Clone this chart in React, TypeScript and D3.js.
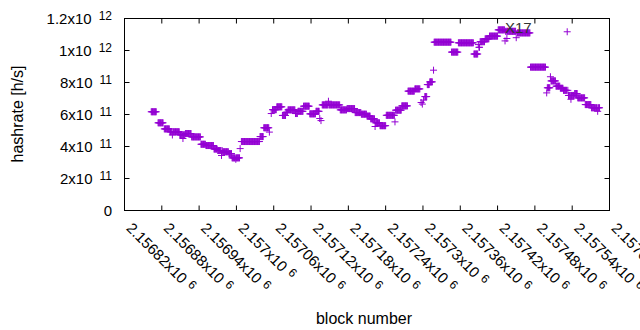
import React from "react";
import * as d3 from "d3";

// ---- data (block offsets relative to BLOCK_BASE) ----
const BLOCK_BASE = 2156820;
const runFirst = [43, 54, 64, 73, 77, 78, 89, 94, 95, 98, 108, 123, 131, 144, 150, 156, 157, 158, 168, 173, 179, 180, 186, 188, 218, 224, 233, 236, 238, 245, 254, 260, 263, 275, 279, 288, 298, 308, 314, 316, 318, 328, 329, 347, 358, 371, 381, 390, 396, 403, 404, 411, 421, 435, 436, 446, 456, 467, 477, 479, 481, 483, 487, 491, 497, 498, 526, 537, 562, 569, 570, 572, 580, 587, 601, 612, 613, 615, 616, 630, 632, 653, 679, 680, 685, 686, 694, 701, 706, 712, 713, 714, 718, 719, 724, 729, 741, 751, 761, 762];
const runLast = [51, 62, 72, 76, 77, 88, 93, 94, 97, 107, 122, 130, 143, 149, 155, 156, 157, 167, 172, 178, 179, 185, 186, 217, 223, 232, 233, 236, 244, 253, 259, 262, 274, 278, 287, 297, 307, 313, 314, 316, 327, 328, 346, 357, 370, 380, 389, 395, 402, 403, 410, 420, 434, 435, 445, 455, 466, 475, 477, 479, 481, 486, 490, 495, 497, 525, 536, 561, 568, 569, 571, 579, 586, 600, 611, 612, 614, 615, 629, 630, 652, 677, 679, 684, 685, 693, 700, 705, 711, 712, 713, 717, 718, 723, 728, 740, 750, 760, 761, 764];
const runHashrateE11 = [6.17, 5.48, 5.10, 4.92, 4.72, 4.92, 4.73, 4.5, 4.73, 4.81, 4.6, 4.14, 4.06, 3.84, 3.75, 3.44, 3.75, 3.67, 3.56, 3.29, 3.2, 3.29, 3.87, 4.31, 4.62, 5.17, 4.9, 6.06, 6.3, 6.48, 5.94, 6.14, 6.29, 6.06, 6.2, 6.52, 6.04, 6.2, 5.75, 5.62, 6.6, 6.83, 6.6, 6.29, 6.37, 6.12, 6.02, 5.9, 5.73, 5.25, 5.48, 5.3, 5.95, 5.54, 6.27, 6.54, 7.46, 7.6, 6.75, 6.65, 6.9, 7.12, 7.87, 8.04, 8.77, 10.52, 9.9, 10.48, 9.78, 10.37, 10.2, 10.55, 10.73, 10.9, 11.29, 10.6, 11.2, 10.75, 11.2, 10.8, 11.1, 8.96, 7.35, 7.67, 8.36, 8.1, 7.77, 7.64, 7.51, 11.17, 7.51, 7.19, 6.95, 7.19, 7.31, 7.04, 6.62, 6.42, 6.2, 6.42];

const xTickValues = [2156820, 2156880, 2156940, 2157000, 2157060, 2157120, 2157180, 2157240, 2157300, 2157360, 2157420, 2157480, 2157540, 2157600];
const xTickMantissa = ["2.15682", "2.15688", "2.15694", "2.157", "2.15706", "2.15712", "2.15718", "2.15724", "2.1573", "2.15736", "2.15742", "2.15748", "2.15754", "2.1576"];
const xTickExp = "6";
const yTickValues = [0, 2e11, 4e11, 6e11, 8e11, 1e12, 1.2e12];
const yTickMantissa = ["0", "2", "4", "6", "8", "1", "1.2"];
const yTickExp = ["", "11", "11", "11", "11", "12", "12"];
const stray = "X17";

const FONT = "'Liberation Sans', Arial, sans-serif";
const COLOR = "#9400d3";

export default function App() {
  const left = 124.5, right = 609.5, top = 18.5, bottom = 210.5;
  const x = d3.scaleLinear().domain([2156820, 2157600]).range([left, right]);
  const y = d3.scaleLinear().domain([0, 1.2e12]).range([bottom, top]);

  const pts: { b: number; v: number }[] = [];
  runFirst.forEach((f, i) => {
    for (let o = f; o <= runLast[i]; o++) pts.push({ b: BLOCK_BASE + o, v: runHashrateE11[i] * 1e11 });
  });
  const h = 3.5;
  const path = pts
    .map((p) => {
      const px = x(p.b), py = y(p.v);
      return `M${px - h},${py}H${px + h}M${px},${py - h}V${py + h}`;
    })
    .join("");

  const tl = 5;
  return (
    <div style={{ position: "absolute", left: 0, top: 0 }}>
      <svg width={640} height={330} style={{ display: "block", background: "#fff" }} fontFamily={FONT}>
        <rect width={640} height={330} fill="#fff" />
        {yTickValues.map((v, i) => (
          <g key={"y" + i}>
            <line x1={left} x2={left + tl} y1={y(v)} y2={y(v)} stroke="#000" />
            <line x1={right} x2={right - tl} y1={y(v)} y2={y(v)} stroke="#000" />
            <text x={112} y={y(v) + 5} textAnchor="end" fontSize={15} fill="#000">
              {yTickMantissa[i]}
              {yTickExp[i] ? "x10" : ""}
              {yTickExp[i] ? (
                <tspan dx={7} dy={-4} fontSize={12}>
                  {yTickExp[i]}
                </tspan>
              ) : null}
            </text>
          </g>
        ))}
        {xTickValues.map((v, i) => (
          <g key={"x" + i}>
            <line x1={x(v)} x2={x(v)} y1={bottom} y2={bottom - tl} stroke="#000" />
            <line x1={x(v)} x2={x(v)} y1={top} y2={top + tl} stroke="#000" />
            <text transform={`translate(${x(v) + 1},229) rotate(45)`} fontSize={15} fill="#000">
              {xTickMantissa[i]}x10
              <tspan dx={5} dy={-4} fontSize={12}>
                {xTickExp}
              </tspan>
            </text>
          </g>
        ))}
        <rect x={left} y={top} width={right - left} height={bottom - top} fill="none" stroke="#000" />
        <path d={path} stroke={COLOR} strokeWidth={1} fill="none" />
        <text x={505} y={33} fontSize={15} fill="#333">{stray}</text>
        <text transform="translate(23,114) rotate(-90)" textAnchor="middle" fontSize={16} fill="#000">
          hashrate [h/s]
        </text>
        <text x={364} y={324} textAnchor="middle" fontSize={16} fill="#000">
          block number
        </text>
      </svg>
    </div>
  );
}
